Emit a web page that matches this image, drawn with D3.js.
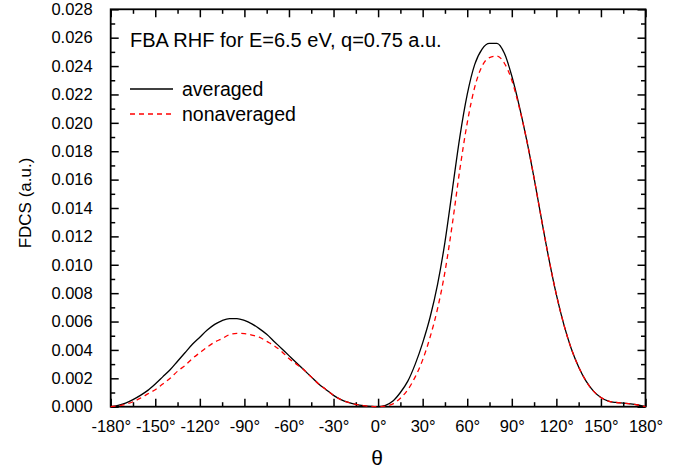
<!DOCTYPE html>
<html>
<head>
<meta charset="utf-8">
<script src="https://cdn.jsdelivr.net/npm/d3@7"></script>
<style>
  html, body { margin: 0; padding: 0; background: #fff; }
  text { font-family: Arial, "Liberation Sans", sans-serif; fill: #000; }
</style>
</head>
<body>
<svg id="chart" width="682" height="470"></svg>
<script>
// ---- data ----
const angles = [-180,-175,-170,-165,-160,-155,-150,-145,-140,-135,-130,-125,-120,-115,-110,-105,-100,-95,-90,-85,-80,-75,-70,-65,-60,-55,-50,-45,-40,-35,-30,-25,-20,-15,-10,-5,
  0,5,10,15,20,25,30,35,40,45,50,55,60,65,70,75,80,85,90,95,100,105,110,115,120,125,130,135,140,145,150,155,160,165,170,175,180];

const averaged = [0,0.0001,0.00025,0.0005,0.0008,0.00115,0.0016,0.0021,0.0026,0.0032,0.0038,0.0044,0.0049,0.0054,0.0058,0.00607,0.00621,0.00621,0.00608,0.00584,0.0055,0.0051,0.0046,0.0041,0.0036,0.0031,0.0026,0.0021,0.0016,0.0012,0.0008,0.0005,0.0003,0.00017,0.00008,0.00003,
  0.00001,0.0001,0.0004,0.0010,0.0018,0.0030,0.0045,0.0063,0.0086,0.0116,0.0153,0.0190,0.0220,0.0241,0.0252,0.0256,0.0256,0.0249,0.0233,0.0212,0.0188,0.0161,0.0132,0.0104,0.0079,0.0058,0.0041,0.0028,0.0018,0.0011,0.00065,0.0004,0.0003,0.00025,0.0002,0.00012,0];

const nonaveraged = [0,0.00006,0.00017,0.00035,0.0006,0.0009,0.0012,0.0016,0.0020,0.0025,0.0029,0.0034,0.0038,0.0042,0.00455,0.0048,0.00508,0.00517,0.00515,0.00505,0.0049,0.0046,0.0043,0.0039,0.0034,0.0030,0.0026,0.0021,0.0016,0.0012,0.0008,0.0005,0.0003,0.00017,0.00008,0.00002,
  0,0.00004,0.0002,0.0006,0.0012,0.0021,0.0033,0.0049,0.0069,0.0095,0.0129,0.0167,0.0200,0.0225,0.0240,0.0246,0.0247,0.0242,0.0230,0.0211,0.0188,0.0161,0.0132,0.0104,0.0079,0.0058,0.0041,0.0028,0.0018,0.0011,0.00065,0.0004,0.0003,0.00025,0.0002,0.00012,0];

const xTicks = [-180,-150,-120,-90,-60,-30,0,30,60,90,120,150,180];
const xMinorTicks = [-165,-135,-105,-75,-45,-15,15,45,75,105,135,165];
const yTicks = [0,0.002,0.004,0.006,0.008,0.010,0.012,0.014,0.016,0.018,0.020,0.022,0.024,0.026,0.028];
const yMinorTicks = [0.001,0.003,0.005,0.007,0.009,0.011,0.013,0.015,0.017,0.019,0.021,0.023,0.025,0.027];

const titleText = "FBA RHF for E=6.5 eV, q=0.75 a.u.";
const seriesNames = ["averaged", "nonaveraged"];

// ---- layout ----
const L = 110.7, R = 645.5, T = 9.3, B = 406.7;
const svg = d3.select("#chart");

const x = d3.scaleLinear().domain([-180, 180]).range([L, R]);
const y = d3.scaleLinear().domain([0, 0.028]).range([B, T]);

const majorLen = 8, minorLen = 4.5;
const tickFont = 16.5;

function tickStyle(g) {
  g.select(".domain").remove();
  g.selectAll(".tick line").attr("stroke", "#000").attr("stroke-width", 1.5);
}

// bottom axis (labels, inward ticks)
const gB = svg.append("g").attr("transform", `translate(0,${B})`)
  .call(d3.axisBottom(x).tickValues(xTicks).tickSizeInner(-majorLen).tickSizeOuter(0)
    .tickPadding(14).tickFormat(d => d + "°"));
tickStyle(gB);
gB.selectAll(".tick text").attr("font-size", tickFont).attr("font-family", "Arial, 'Liberation Sans', sans-serif").attr("fill", "#000");
svg.append("g").attr("transform", `translate(0,${B})`)
  .call(d3.axisBottom(x).tickValues(xMinorTicks).tickSizeInner(-minorLen).tickSizeOuter(0).tickFormat(""))
  .call(tickStyle);

// top axis (mirror)
svg.append("g").attr("transform", `translate(0,${T})`)
  .call(d3.axisTop(x).tickValues(xTicks).tickSizeInner(-majorLen).tickSizeOuter(0).tickFormat(""))
  .call(tickStyle);
svg.append("g").attr("transform", `translate(0,${T})`)
  .call(d3.axisTop(x).tickValues(xMinorTicks).tickSizeInner(-minorLen).tickSizeOuter(0).tickFormat(""))
  .call(tickStyle);

// left axis
const gL = svg.append("g").attr("transform", `translate(${L},0)`)
  .call(d3.axisLeft(y).tickValues(yTicks).tickSizeInner(-majorLen).tickSizeOuter(0)
    .tickPadding(18).tickFormat(d3.format(".3f")));
tickStyle(gL);
gL.selectAll(".tick text").attr("font-size", tickFont).attr("font-family", "Arial, 'Liberation Sans', sans-serif").attr("fill", "#000");
svg.append("g").attr("transform", `translate(${L},0)`)
  .call(d3.axisLeft(y).tickValues(yMinorTicks).tickSizeInner(-minorLen).tickSizeOuter(0).tickFormat(""))
  .call(tickStyle);

// right axis (mirror)
svg.append("g").attr("transform", `translate(${R},0)`)
  .call(d3.axisRight(y).tickValues(yTicks).tickSizeInner(-majorLen).tickSizeOuter(0).tickFormat(""))
  .call(tickStyle);
svg.append("g").attr("transform", `translate(${R},0)`)
  .call(d3.axisRight(y).tickValues(yMinorTicks).tickSizeInner(-minorLen).tickSizeOuter(0).tickFormat(""))
  .call(tickStyle);

// frame
svg.append("rect").attr("x", L).attr("y", T).attr("width", R - L).attr("height", B - T)
  .attr("fill", "none").attr("stroke", "#000").attr("stroke-width", 1.8);

// curves
const line = d3.line().x((d, i) => x(angles[i])).y(d => y(d)).curve(d3.curveMonotoneX);

svg.append("path").datum(averaged).attr("d", line)
  .attr("fill", "none").attr("stroke", "#000").attr("stroke-width", 1.3);
svg.append("path").datum(nonaveraged).attr("d", line)
  .attr("fill", "none").attr("stroke", "#ff0000").attr("stroke-width", 1.3)
  .attr("stroke-dasharray", "5,4");

// title
svg.append("text").attr("x", 130).attr("y", 47).attr("font-size", 20).text(titleText);

// legend
svg.append("line").attr("x1", 130).attr("x2", 173).attr("y1", 89).attr("y2", 89)
  .attr("stroke", "#000").attr("stroke-width", 1.3);
svg.append("text").attr("x", 182).attr("y", 96).attr("font-size", 19.5).text(seriesNames[0]);
svg.append("line").attr("x1", 130).attr("x2", 173).attr("y1", 114).attr("y2", 114)
  .attr("stroke", "#ff0000").attr("stroke-width", 1.3).attr("stroke-dasharray", "5,4");
svg.append("text").attr("x", 182).attr("y", 121).attr("font-size", 19.5).text(seriesNames[1]);

// axis titles
svg.append("text").attr("x", 377).attr("y", 465).attr("text-anchor", "middle")
  .attr("font-family", "'Liberation Serif', 'DejaVu Serif', serif").attr("font-size", 21).text("θ");
svg.append("text").attr("transform", `translate(31,203) rotate(-90)`).attr("text-anchor", "middle")
  .attr("font-size", 17).text("FDCS (a.u.)");
</script>
</body>
</html>
